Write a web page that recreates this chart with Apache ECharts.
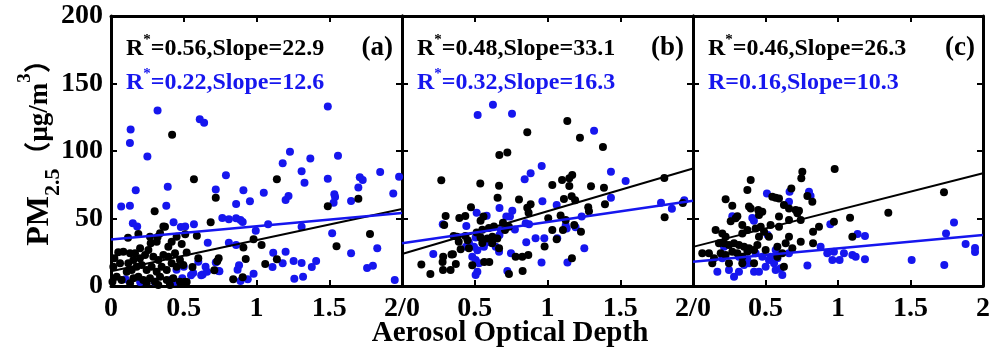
<!DOCTYPE html>
<html>
<head>
<meta charset="utf-8">
<script src="https://cdn.jsdelivr.net/npm/echarts@6/dist/echarts.min.js"></script>
<style>html,body{margin:0;padding:0;background:#fff;}#c{width:993px;height:350px;}</style>
</head>
<body>
<div id="c"></div>
<script>
// ---------- data ----------
const xTickLabelsA = ['0', '0.5', '1', '1.5', '2/0'];
const xTickLabelsB = ['', '0.5', '1', '1.5', '2/0'];
const xTickLabelsC = ['', '0.5', '1', '1.5', '2'];
const yTickLabels = ['0', '50', '100', '150', '200'];
const panelLabels = ['(a)', '(b)', '(c)'];
const statsBlack = [['R', '*', '=0.56,Slope=22.9'], ['R', '*', '=0.48,Slope=33.1'], ['R', '*', '=0.46,Slope=26.3']];
const statsBlue = [['R', '*', '=0.22,Slope=12.6'], ['R', '*', '=0.32,Slope=16.3'], ['R', '', '=0.16,Slope=10.3']];
const xTitle = 'Aerosol Optical Depth';

const blackA = [[0.42,112],[0.57,79],[1.14,79],[0.72,65.4],[1.49,59],[1.70,64.7],[0.30,55.3],[0.685,47.2],[0.36,44],[1.78,38.5],[0.59,37.3],[1.55,29.4],[1.035,30.4],[0.98,34.6],[0.91,28.6],[0.926,20],[1.06,16.3],[1.14,19.8],[0.84,5],[0.73,18.3],[0.71,11.6],[0.74,20.5],[0.905,6.4],[0.60,20.5],
[0.023,20.5],[0.016,14.3],[0.085,25.4],[0.131,24.2],[0.165,24.2],[0.188,38.5],[0.268,36.5],[0.273,31.6],[0.314,32.8],[0.337,39.0],[0.371,43.9],[0.394,29.1],[0.417,32.8],[0.451,36.5],[0.486,31.1],[0.520,24.9],[0.062,16.8],[0.119,16.8],[0.154,19.3],[0.199,20.5],[0.234,23.0],[0.257,26.7],[0.291,21.7],[0.325,19.3],[0.360,23.0],[0.394,21.7],[0.440,24.2],[0.474,19.3],[0.497,15.6],[0.108,10.6],[0.142,11.9],[0.176,14.3],[0.211,15.6],[0.245,11.9],[0.279,14.3],[0.314,10.6],[0.348,14.3],[0.383,11.9],[0.417,16.8],[0.451,14.3],[0.039,6.9],[0.073,4.4],[0.154,5.7],[0.188,6.9],[0.222,4.4],[0.268,5.7],[0.302,3.2],[0.337,6.9],[0.383,4.4],[0.428,5.7],[0.474,3.2],[0.509,3.2],[0.01,3.2],[0.131,2.0],[0.245,2.0],[0.325,0.7],[0.405,0.7],[0.117,35.8],[0.32,36.3],[0.51,38.3],[0.52,3],[0.56,14],[0.05,25],[0.2,28]];
const blueA = [[0.32,130],[0.135,116],[0.13,106],[0.25,96],[0.61,123.5],[0.64,121],[1.49,133],[1.23,99.5],[1.18,91],[1.37,94.5],[1.56,96.5],[1.31,85],[1.33,76.5],[1.85,84.5],[1.71,80.5],[1.73,78.5],[1.98,81],[1.49,79.5],[0.79,82],[0.39,73.5],[0.17,71],[1.05,69],[0.72,71.5],[0.91,71],[1.2,63.7],[1.22,66.7],[1.535,68],[1.54,66],[1.53,61.7],[1.65,63],[1.70,73],[1.94,68.6],[0.07,58.8],[0.13,59.5],[0.38,59.5],[0.86,60.7],[0.955,62.7],[1.08,45.7],[0.765,50.4],[0.81,49.4],[0.86,50.1],[0.89,48.9],[0.905,47.4],[0.57,45.7],[0.43,47.2],[0.48,43.7],[0.51,44],[0.15,46.4],[0.18,44],[1.31,43.9],[0.995,41],[1.52,39],[0.665,32],[0.81,32],[0.86,30.4],[1.115,24.7],[1.2,25.4],[1.65,24.2],[1.83,27.9],[1.11,14],[1.18,16.8],[1.255,18.5],[1.31,17],[1.38,14],[1.41,18.5],[1.76,13.3],[1.80,15],[1.26,5.4],[1.32,6.9],[1.95,4.4],[0.88,15.3],[0.87,12],[0.98,9],[0.89,3.7],[0.94,5],[0.6,18],[0.65,14.3],[0.745,11],[0.565,9.6],[0.62,8],[0.72,17.5],[0.30,3.2],[0.44,3.2],[0.49,5.7],[0.50,14.3],[0.63,8.6],[0.66,10.6],[0.74,11.1],[0.45,12],[0.42,5],[0.55,8],[0.1,5],[0.2,3]];

const blackB = [[1.136,122.2],[0.861,113.8],[1.223,109.9],[1.381,103],[0.669,97],[0.724,98.8],[0.27,78.3],[0.538,76],[1.033,74.8],[1.10,78.5],[1.15,79.8],[1.17,82.2],[1.15,74.1],[1.299,73.8],[1.388,72.8],[1.803,80],[0.667,74.3],[0.657,65.4],[0.804,64],[0.474,58.3],[0.30,51.9],[0.29,45.2],[0.394,50.4],[0.435,51.9],[0.56,51.4],[0.54,48.4],[0.861,58],[0.884,60.5],[0.87,54.3],[1.113,64.4],[1.166,66.4],[1.19,63.5],[1.033,41.4],[1.005,50.1],[1.09,52.3],[1.106,41.4],[1.125,48.9],[1.28,58.3],[1.285,55.3],[1.395,60.5],[1.23,40.2],[1.184,45.2],[1.063,34.6],[0.98,29.3],[1.805,50.9],[1.93,61.5],[0.355,37.1],[0.378,36.5],[0.39,32.8],[0.435,37.1],[0.451,33.8],[0.513,39.6],[0.552,41.6],[0.597,42.9],[0.632,44.1],[0.694,46.8],[0.54,36],[0.552,31.9],[0.587,35.2],[0.621,36.5],[0.655,35.2],[0.708,41.4],[0.735,43.9],[0.46,27.9],[0.403,27.3],[0.35,23.5],[0.283,21.7],[0.279,17.8],[0.34,23.4],[0.667,27.9],[0.62,31.6],[0.781,21.7],[0.827,21.7],[0.868,23],[0.565,17.8],[0.6,17.8],[0.483,15.3],[0.133,16],[0.195,8.9],[0.282,11.9],[0.334,11.9],[0.37,16.3],[0.735,8.9],[0.829,11.1],[1.168,20.5]];
const blueB = [[0.52,126.7],[0.625,134.3],[0.756,127.6],[1.32,115],[0.96,88.9],[0.843,79],[0.884,83.5],[1.436,84.7],[1.537,77.8],[1.436,65.4],[0.965,62.7],[0.67,57.8],[0.513,54.3],[0.582,52],[0.758,55.8],[0.717,51.4],[0.742,51.4],[1.063,60],[0.873,45.7],[0.85,46.4],[0.442,44.4],[0.28,45.7],[0.776,41.9],[0.68,41.4],[0.67,37.7],[0.918,35.4],[0.978,35.4],[1.125,45],[1.132,42.6],[1.235,51.4],[1.193,43.5],[1.067,35.4],[0.854,32.4],[1.253,27.9],[0.215,23.7],[0.506,36],[0.495,29],[0.518,26.5],[0.54,36],[0.575,32.3],[0.563,29],[0.483,21.7],[0.506,19.3],[0.529,16.8],[0.518,10.6],[0.506,8.1],[0.61,32.3],[0.644,29],[0.667,25.4],[0.749,24.2],[0.724,11.1],[0.959,17.5],[1.137,17.5],[0.46,32.3],[0.44,29],[1.78,61.7],[1.855,57.3],[1.94,63.5]];

const blackC = [[0.977,86.7],[0.754,84.7],[0.747,79.8],[0.398,78.5],[0.375,71.1],[0.225,64.2],[0.271,59.5],[0.34,45.2],[0.294,50.1],[0.398,57.5],[0.386,58.8],[0.45,56.3],[0.455,52.6],[0.478,55],[0.547,66.2],[0.57,65.4],[0.593,64.9],[0.678,72.3],[0.789,66.7],[0.823,62.5],[0.627,60],[0.662,57.5],[0.708,56.3],[0.731,55.8],[1.731,69.4],[1.347,54.3],[1.083,50.6],[0.972,47.6],[1.099,36.5],[0.156,41.4],[0.064,24.2],[0.202,38.9],[0.225,36.5],[0.26,47.9],[0.306,51.6],[0.34,38.9],[0.375,41.4],[0.432,42.6],[0.467,43.9],[0.455,36.5],[0.49,40.2],[0.535,45.2],[0.524,36.5],[0.593,43.9],[0.593,51.4],[0.662,48.9],[0.72,53.8],[0.743,48.9],[0.179,31.6],[0.214,31.6],[0.248,30.4],[0.283,31.6],[0.317,30.4],[0.352,29.1],[0.386,27.9],[0.11,24.2],[0.145,20.5],[0.191,24.2],[0.225,22.9],[0.271,25.4],[0.306,24.2],[0.34,21.7],[0.375,25.4],[0.421,26.7],[0.133,16.8],[0.248,16.8],[0.34,16.8],[0.421,16.8],[0.444,30.4],[0.501,26.7],[0.582,21.7],[0.639,31.6],[0.685,27.9],[0.743,32.8],[0.627,14.3],[0.828,40.2],[0.869,43.9],[0.828,31.6],[0.582,29.1],[0.616,24.2],[0.662,36.5]];
const blueC = [[0.51,68.6],[0.666,69.9],[0.8,69.9],[0.811,66.7],[0.662,62.5],[0.515,37.7],[0.42,48.4],[0.947,45.7],[1.135,38.5],[1.186,37.1],[1.80,47.1],[1.745,38.9],[1.88,31.1],[1.945,28.1],[1.945,25.2],[1.508,19.3],[1.733,15.6],[0.926,24.2],[0.972,25.4],[0.961,19.3],[1.011,19.3],[1.041,24.2],[1.099,22.9],[1.122,21.7],[1.186,19.8],[0.88,29.1],[0.789,15.1],[0.168,10.6],[0.248,11.9],[0.283,6.9],[0.317,10.6],[0.352,15.6],[0.386,16.8],[0.421,10.6],[0.455,10.6],[0.501,14.3],[0.524,19.3],[0.559,16.8],[0.57,11.9],[0.605,13.1],[0.616,8.1],[0.271,51.6],[0.409,50.4],[0.317,21.7],[0.375,19.3],[0.432,24.2],[0.478,21.7],[0.57,26.7],[0.662,24.2],[0.582,20.5],[0.536,21.7],[0.202,20.5],[0.214,29.1]];

const fitBlack = [[[0, 11], [2, 57]], [[0, 23.7], [2, 87]], [[0, 29], [2, 83.5]]];
const fitBlue = [[[0, 34.5], [2, 54]], [[0, 31.6], [2, 63.2]], [[0, 18], [2, 37.8]]];

const blackSets = [blackA, blackB, blackC];
const blueSets = [blueA, blueB, blueC];
const xLabelSets = [xTickLabelsA, xTickLabelsB, xTickLabelsC];

// ---------- styling ----------
const BLUE = '#1616ee';
const FONT = '"Liberation Serif", "Times New Roman", "Noto Sans CJK SC", serif';
const panelLeft = [111, 402, 693];
const panelW = 291, panelTop = 16, panelH = 270;

const grids = [], xAxes = [], yAxes = [], series = [], graphics = [];
const lineStyle = { color: '#000', width: 3 };
const tick = { show: true, inside: true, length: 6, lineStyle: { color: '#000', width: 2 } };
const lbl = { fontFamily: FONT, fontWeight: 'bold', fontSize: 28, color: '#000' };

for (let i = 0; i < 3; i++) {
  grids.push({ left: panelLeft[i], top: panelTop, width: panelW, height: panelH });
  const labels = xLabelSets[i];
  xAxes.push({
    type: 'value', gridIndex: i, position: 'bottom', min: 0, max: 2, interval: 0.5,
    axisLine: { show: true, onZero: false, lineStyle }, axisTick: tick, splitLine: { show: false },
    axisLabel: Object.assign({ margin: 9, formatter: (v, idx) => labels[Math.round(v / 0.5)] }, lbl)
  });
  xAxes.push({
    type: 'value', gridIndex: i, position: 'top', min: 0, max: 2, interval: 0.5,
    axisLine: { show: true, onZero: false, lineStyle }, axisTick: tick, splitLine: { show: false },
    axisLabel: { show: false }
  });
  yAxes.push({
    type: 'value', gridIndex: i, position: 'left', min: 0, max: 200, interval: 50,
    axisLine: { show: true, onZero: false, lineStyle }, axisTick: tick, splitLine: { show: false },
    axisLabel: Object.assign({ show: i === 0, margin: 8, formatter: (v) => yTickLabels[Math.round(v / 50)] }, lbl)
  });
  yAxes.push({
    type: 'value', gridIndex: i, position: 'right', min: 0, max: 200, interval: 50,
    axisLine: { show: true, onZero: false, lineStyle }, axisTick: tick, splitLine: { show: false },
    axisLabel: { show: false }
  });
  series.push({ type: 'scatter', xAxisIndex: 2 * i, yAxisIndex: 2 * i, data: blueSets[i], symbolSize: 8, itemStyle: { color: BLUE, opacity: 1 }, z: 2, silent: true });
  series.push({ type: 'scatter', xAxisIndex: 2 * i, yAxisIndex: 2 * i, data: blackSets[i], symbolSize: 8, itemStyle: { color: '#000', opacity: 1 }, z: 3, silent: true });
  series.push({ type: 'line', xAxisIndex: 2 * i, yAxisIndex: 2 * i, data: fitBlack[i], showSymbol: false, lineStyle: { color: '#000', width: 2 }, z: 4, silent: true });
  series.push({ type: 'line', xAxisIndex: 2 * i, yAxisIndex: 2 * i, data: fitBlue[i], showSymbol: false, lineStyle: { color: BLUE, width: 2.5 }, z: 4, silent: true });

  const mk = (parts, color, y) => ({
    type: 'text', x: panelLeft[i] + 15, y: y, z: 10,
    style: {
      text: '{r|' + parts[0] + '}' + (parts[1] ? '{s|' + parts[1] + '}' : '') + '{r|' + parts[2] + '}',
      verticalAlign: 'middle', align: 'left',
      rich: {
        r: { fontFamily: FONT, fontWeight: 'bold', fontSize: 24, fill: color, color: color, lineHeight: 28, verticalAlign: 'bottom' },
        s: { fontFamily: FONT, fontWeight: 'bold', fontSize: 15, fill: color, color: color, lineHeight: 15, verticalAlign: 'top' }
      }
    }
  });
  graphics.push(mk(statsBlack[i], '#000', 47));
  graphics.push(mk(statsBlue[i], BLUE, 81));
  graphics.push({
    type: 'text', x: panelLeft[i] + panelW - 9, y: 48, z: 10,
    style: { text: panelLabels[i], align: 'right', verticalAlign: 'middle', fontFamily: FONT, fontWeight: 'bold', fontSize: 27, fill: '#000' }
  });
}

graphics.push({
  type: 'text', x: 510, y: 334, z: 10,
  style: { text: xTitle, align: 'center', verticalAlign: 'middle', fontFamily: FONT, fontWeight: 'bold', fontSize: 29, fill: '#000' }
});
graphics.push({
  type: 'text', x: 40, y: 146, rotation: Math.PI / 2, z: 10,
  style: {
    text: '{pm|PM}{sub|2.5}{u|（μg/m}{sup|3}{u|）}',
    align: 'center', verticalAlign: 'middle',
    rich: {
      pm: { fontFamily: FONT, fontWeight: 'bold', fontSize: 32, fill: '#000', lineHeight: 48, verticalAlign: 'middle' },
      sub: { fontFamily: FONT, fontWeight: 'bold', fontSize: 22, fill: '#000', lineHeight: 22, verticalAlign: 'bottom' },
      u: { fontFamily: FONT, fontWeight: 'bold', fontSize: 27, fill: '#000', lineHeight: 30, verticalAlign: 'middle' },
      sup: { fontFamily: FONT, fontWeight: 'bold', fontSize: 19, fill: '#000', lineHeight: 16, verticalAlign: 'top' }
    }
  }
});

const chart = echarts.init(document.getElementById('c'), null, { renderer: 'canvas' });
chart.setOption({
  animation: false,
  backgroundColor: '#fff',
  grid: grids, xAxis: xAxes, yAxis: yAxes, series: series, graphic: graphics
});
</script>
</body>
</html>
